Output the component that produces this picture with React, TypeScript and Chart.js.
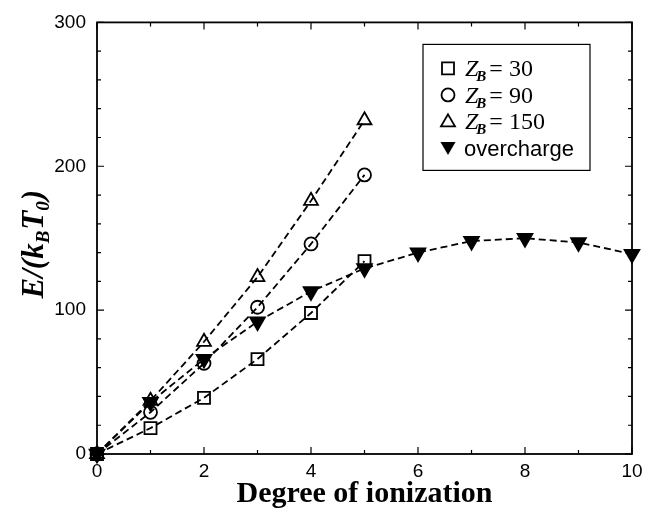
import React, { useEffect, useRef } from 'react';
import { Chart, registerables } from 'chart.js';

Chart.register(...registerables);

const degrees = [0, 1, 2, 3, 4, 5, 6, 7, 8, 9, 10];
const zb30 = [0, 18, 39, 66, 98, 134];
const zb90 = [0, 29, 63, 102, 146, 194];
const zb150 = [0, 37, 78, 123, 176, 232];
const overcharge = [0, 36, 66, 92, 113, 129, 140, 148, 150, 147, 139];

const xTicksMajor = [0, 2, 4, 6, 8, 10];
const xTicksMinor = [1, 3, 5, 7, 9];
const yTicksMajor = [0, 100, 200, 300];
const yTicksMinor = [20, 40, 60, 80, 120, 140, 160, 180, 220, 240, 260, 280];

const legendLabels = [
  { kind: 'zb', value: '30' },
  { kind: 'zb', value: '90' },
  { kind: 'zb', value: '150' },
  { kind: 'text', value: 'overcharge' },
];

const SERIF = '"Liberation Serif", "Times New Roman", serif';
const SANS = '"Liberation Sans", Arial, sans-serif';

function drawMarker(ctx: CanvasRenderingContext2D, style: string, x: number, y: number) {
  ctx.save();
  ctx.lineWidth = 1.8;
  ctx.strokeStyle = '#000';
  ctx.fillStyle = '#000';
  ctx.beginPath();
  if (style === 'rect') {
    ctx.rect(x - 6, y - 6, 12, 12);
    ctx.stroke();
  } else if (style === 'circle') {
    ctx.arc(x, y, 6.5, 0, Math.PI * 2);
    ctx.stroke();
  } else if (style === 'triangle') {
    ctx.moveTo(x, y - 7);
    ctx.lineTo(x + 7, y + 5);
    ctx.lineTo(x - 7, y + 5);
    ctx.closePath();
    ctx.stroke();
  } else {
    ctx.moveTo(x, y + 7);
    ctx.lineTo(x + 7.5, y - 6);
    ctx.lineTo(x - 7.5, y - 6);
    ctx.closePath();
    ctx.fill();
  }
  ctx.restore();
}

const framePlugin = {
  id: 'frameTicks',
  afterDatasetsDraw(chart: any) {
    const { ctx, chartArea, scales } = chart;
    const { left, right, top, bottom } = chartArea;
    ctx.save();
    ctx.strokeStyle = '#000';
    ctx.lineWidth = 1.8;
    ctx.strokeRect(left, top, right - left, bottom - top);
    ctx.lineWidth = 1.2;
    const major = 7;
    const minor = 4;
    ctx.beginPath();
    const xs = scales.x;
    const ys = scales.y;
    const doX = (v: number, len: number) => {
      const p = xs.getPixelForValue(v);
      ctx.moveTo(p, bottom);
      ctx.lineTo(p, bottom - len);
      ctx.moveTo(p, top);
      ctx.lineTo(p, top + len);
    };
    const doY = (v: number, len: number) => {
      const p = ys.getPixelForValue(v);
      ctx.moveTo(left, p);
      ctx.lineTo(left + len, p);
      ctx.moveTo(right, p);
      ctx.lineTo(right - len, p);
    };
    xTicksMajor.forEach((v) => doX(v, major));
    xTicksMinor.forEach((v) => doX(v, minor));
    yTicksMajor.forEach((v) => doY(v, major));
    yTicksMinor.forEach((v) => doY(v, minor));
    ctx.stroke();
    ctx.restore();
  },
};

const yTitlePlugin = {
  id: 'yTitle',
  afterDraw(chart: any) {
    const { ctx, chartArea } = chart;
    const main = `italic bold 31px ${SERIF}`;
    const sub = `italic bold 19px ${SERIF}`;
    const segs: [string, string, number][] = [
      ['E/(k', main, 0],
      ['B', sub, 6],
      ['T', main, 0],
      ['0', sub, 6],
      [')', main, 0],
    ];
    ctx.save();
    let total = 0;
    segs.forEach(([t, f]) => {
      ctx.font = f;
      total += ctx.measureText(t).width;
    });
    const cy = (chartArea.top + chartArea.bottom) / 2 + 7;
    ctx.translate(43, cy);
    ctx.rotate(-Math.PI / 2);
    ctx.fillStyle = '#000';
    ctx.textBaseline = 'alphabetic';
    ctx.textAlign = 'left';
    let x = -total / 2;
    segs.forEach(([t, f, dy]) => {
      ctx.font = f;
      ctx.fillText(t, x, dy);
      x += ctx.measureText(t).width + (f === sub ? 1 : 0);
    });
    ctx.restore();
  },
};

const legendPlugin = {
  id: 'customLegend',
  afterDraw(chart: any) {
    const { ctx, chartArea } = chart;
    const bx = chartArea.right - 209;
    const by = chartArea.top + 22;
    const bw = 167;
    const bh = 126;
    ctx.save();
    ctx.fillStyle = '#fff';
    ctx.fillRect(bx, by, bw, bh);
    ctx.strokeStyle = '#000';
    ctx.lineWidth = 1.2;
    ctx.strokeRect(bx, by, bw, bh);
    const styles = ['rect', 'circle', 'triangle', 'down'];
    legendLabels.forEach((item, i) => {
      const cy = by + 24 + i * 26.5;
      drawMarker(ctx, styles[i], bx + 25, cy);
      ctx.fillStyle = '#000';
      ctx.textBaseline = 'alphabetic';
      ctx.textAlign = 'left';
      let x = bx + 42;
      const base = cy + 8;
      if (item.kind === 'zb') {
        ctx.font = `italic 24px ${SERIF}`;
        ctx.fillText('Z', x, base);
        x += ctx.measureText('Z').width;
        ctx.font = `italic bold 15px ${SERIF}`;
        ctx.fillText('B', x - 2, base + 5);
        x += ctx.measureText('B').width + 1;
        ctx.font = `24px ${SERIF}`;
        ctx.fillText('= ' + item.value, x, base);
      } else {
        ctx.font = `22px ${SANS}`;
        ctx.fillText(item.value, x - 1, base);
      }
    });
    ctx.restore();
  },
};

function pts(ys: number[]) {
  return ys.map((y, i) => ({ x: degrees[i], y }));
}

function ds(label: string, ys: number[], style: string, radius: number, filled: boolean, rotation = 0) {
  return {
    label,
    data: pts(ys),
    borderColor: '#000',
    borderWidth: 1.8,
    borderDash: [7, 4],
    pointStyle: style,
    pointRadius: radius,
    pointRotation: rotation,
    pointBorderWidth: 1.8,
    pointBorderColor: '#000',
    pointBackgroundColor: filled ? '#000' : 'rgba(0,0,0,0)',
    fill: false,
    tension: 0,
    clip: false as any,
  };
}

export default function App() {
  const ref = useRef<HTMLCanvasElement>(null);
  useEffect(() => {
    const canvas = ref.current;
    if (!canvas) return;
    const chart = new Chart(canvas, {
      type: 'line',
      data: {
        datasets: [
          ds('overcharge', overcharge, 'triangle', 8.5, true, 180),
          ds('Z_B = 30', zb30, 'rect', 8.5, false),
          ds('Z_B = 90', zb90, 'circle', 6.5, false),
          ds('Z_B = 150', zb150, 'triangle', 8, false),
        ],
      },
      options: {
        responsive: false,
        animation: false,
        layout: { padding: { left: 0, top: 11, right: 33, bottom: 0 } },
        plugins: {
          legend: { display: false },
          tooltip: { enabled: false },
        },
        scales: {
          x: {
            type: 'linear',
            min: 0,
            max: 10,
            ticks: {
              stepSize: 2,
              color: '#000',
              font: { family: SANS, size: 19 },
              padding: 6,
              maxRotation: 0,
            },
            grid: { display: false, drawTicks: false },
            border: { display: false },
            title: {
              display: true,
              text: 'Degree of ionization',
              color: '#000',
              font: { family: SERIF, size: 30, weight: 'bold' },
              padding: { top: 0, bottom: 4 },
            },
            afterFit: (s: any) => {
              s.height = 62;
            },
          },
          y: {
            type: 'linear',
            min: 0,
            max: 300,
            ticks: {
              stepSize: 100,
              color: '#000',
              font: { family: SANS, size: 19 },
              padding: 11,
            },
            grid: { display: false, drawTicks: false },
            border: { display: false },
            afterFit: (s: any) => {
              s.width = 97;
            },
          },
        },
      } as any,
      plugins: [framePlugin, legendPlugin, yTitlePlugin],
    });
    return () => chart.destroy();
  }, []);
  return (
    <div style={{ position: 'absolute', left: 0, top: 0, width: 665, height: 516, background: '#fff' }}>
      <canvas ref={ref} width={665} height={516} style={{ display: 'block' }} />
    </div>
  );
}
